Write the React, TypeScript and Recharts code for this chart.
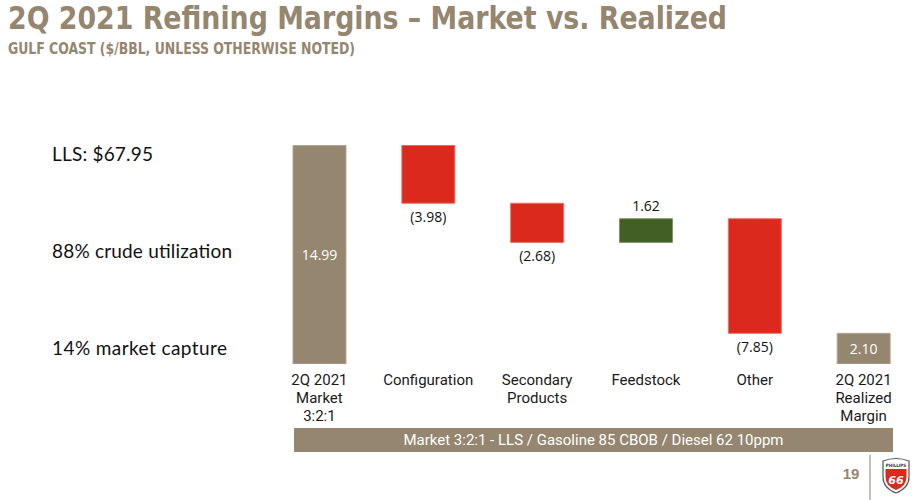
import React from "react";
import { BarChart, Bar, XAxis, YAxis, Cell, LabelList } from "recharts";

const categories = [
  "2Q 2021\nMarket\n3:2:1",
  "Configuration",
  "Secondary\nProducts",
  "Feedstock",
  "Other",
  "2Q 2021\nRealized\nMargin",
];
const values = [14.99, -3.98, -2.68, 1.62, -7.85, 2.1];
const kinds = ["total", "delta", "delta", "delta", "delta", "total"];
const sideNotes = ["LLS: $67.95", "88% crude utilization", "14% market capture"];
const footerText = "Market 3:2:1 - LLS / Gasoline 85 CBOB / Diesel 62 10ppm";
const titleText = "2Q 2021 Refining Margins \u2013 Market vs. Realized";
const subtitleText = "GULF COAST ($/BBL, UNLESS OTHERWISE NOTED)";
const pageNumber = "19";

const TAN = "#958670";
const RED = "#DC291E";
const GREEN = "#426026";

// build waterfall rows
const rows = (() => {
  let running = 0;
  return categories.map((name, i) => {
    const v = values[i];
    let base = 0;
    let size = 0;
    if (kinds[i] === "total") {
      base = 0;
      size = v;
      running = v;
    } else {
      const next = running + v;
      base = Math.min(running, next);
      size = Math.abs(v);
      running = next;
    }
    return { name, base, size, value: v, kind: kinds[i] };
  });
})();

const fmt = (v: number) => (v < 0 ? `(${Math.abs(v).toFixed(2)})` : v.toFixed(2));

const colorFor = (r: { kind: string; value: number }) =>
  r.kind === "total" ? TAN : r.value < 0 ? RED : GREEN;
const strokeFor = (r: { kind: string; value: number }) =>
  r.kind === "total" ? "#b3a794" : r.value < 0 ? "#e8706a" : "#7d9466";

const ValueLabel = (props: any) => {
  const { x, y, width, height, index } = props;
  const r = rows[index];
  const cx = x + width / 2;
  let ty = y + height / 2;
  let fill = "#111";
  if (r.kind === "total") {
    fill = "#ffffff";
  } else if (r.value < 0) {
    ty = y + height + 13;
  } else {
    ty = y - 13;
  }
  return (
    <text
      x={cx}
      y={ty}
      textAnchor="middle"
      dominantBaseline="central"
      fontFamily="'Open Sans', sans-serif"
      fontSize={14}
      fill={fill}
    >
      {fmt(r.value)}
    </text>
  );
};

const CatTick = (props: any) => {
  const { x, y, payload } = props;
  const lines = String(payload.value).split("\n");
  return (
    <g>
      {lines.map((ln, i) => (
        <text
          key={i}
          x={x}
          y={y + 8 + i * 18}
          textAnchor="middle"
          dominantBaseline="central"
          fontFamily="Roboto, sans-serif"
          fontSize={15}
          fill="#1a1a1a"
        >
          {ln}
        </text>
      ))}
    </g>
  );
};

const noteWidths = [101, 180, 175];
const noteYs = [153, 250, 347];

export default function App() {
  return (
    <div style={{ position: "absolute", left: 0, top: 0, width: 918, height: 500, background: "#fff", overflow: "hidden" }}>
      <svg width={918} height={500} style={{ position: "absolute", left: 0, top: 0 }}>
        <text
          x={8}
          y={29}
          fontFamily="'Liberation Sans Narrow', 'DejaVu Sans Condensed', sans-serif"
          fontWeight="bold"
          fontSize={32}
          fill={TAN}
          textLength={719}
          lengthAdjust="spacingAndGlyphs"
        >
          {titleText}
        </text>
        <text
          x={8}
          y={54}
          fontFamily="'Liberation Sans Narrow', 'DejaVu Sans Condensed', sans-serif"
          fontWeight="bold"
          fontSize={16}
          fill={TAN}
          textLength={347}
          lengthAdjust="spacingAndGlyphs"
        >
          {subtitleText}
        </text>
        {sideNotes.map((t, i) => (
          <text
            key={i}
            x={52}
            y={noteYs[i]}
            dominantBaseline="central"
            fontFamily="Lato, sans-serif"
            fontSize={19}
            fill="#111"
            textLength={noteWidths[i]}
            lengthAdjust="spacing"
          >
            {t}
          </text>
        ))}
        <rect x={294} y={428} width={599} height={24} fill={TAN} />
        <text
          x={593.5}
          y={440}
          textAnchor="middle"
          dominantBaseline="central"
          fontFamily="Roboto, sans-serif"
          fontSize={15}
          fill="#fff"
        >
          {footerText}
        </text>
        <text
          x={851}
          y={473}
          textAnchor="middle"
          dominantBaseline="central"
          fontFamily="'Liberation Sans', sans-serif"
          fontWeight="bold"
          fontSize={15}
          fill={TAN}
        >
          {pageNumber}
        </text>
        <line x1={870} y1={455} x2={870} y2={500} stroke="#b8ad9c" strokeWidth={1.5} />
        <g transform="translate(881,457)">
          <path d="M2 4 Q15 -1 28 4 L28 20 Q28 31 15 36 Q2 31 2 20 Z" fill="#fff" stroke="#555" strokeWidth={1.2} />
          <path d="M4.5 12 L25.5 12 L25.5 20 Q25.5 29 15 33 Q4.5 29 4.5 20 Z" fill="#DC291E" />
          <text x={15} y={23.5} textAnchor="middle" dominantBaseline="central" fontFamily="'DejaVu Sans', sans-serif" fontWeight="bold" fontStyle="italic" fontSize={11} fill="#fff">66</text>
          <text x={15} y={8} textAnchor="middle" dominantBaseline="central" fontFamily="'DejaVu Sans Condensed', sans-serif" fontWeight="bold" fontSize={4.5} fill="#333">PHILLIPS</text>
        </g>
      </svg>
      <div style={{ position: "absolute", left: 0, top: 0 }}>
        <BarChart
          width={918}
          height={500}
          data={rows}
          margin={{ top: 145, right: 0, bottom: 106, left: 265 }}
          barCategoryGap={0}
        >
          <XAxis
            dataKey="name"
            axisLine={false}
            tickLine={false}
            height={30}
            interval={0}
            tick={<CatTick />}
          />
          <YAxis hide domain={[0, 15]} allowDataOverflow width={0} />
          <Bar dataKey="base" stackId="w" fill="transparent" isAnimationActive={false} barSize={53} />
          <Bar dataKey="size" stackId="w" isAnimationActive={false} barSize={53}>
            {rows.map((r, i) => (
              <Cell key={i} fill={colorFor(r)} stroke={strokeFor(r)} strokeWidth={1} />
            ))}
            <LabelList dataKey="size" content={<ValueLabel />} />
          </Bar>
        </BarChart>
      </div>
    </div>
  );
}
